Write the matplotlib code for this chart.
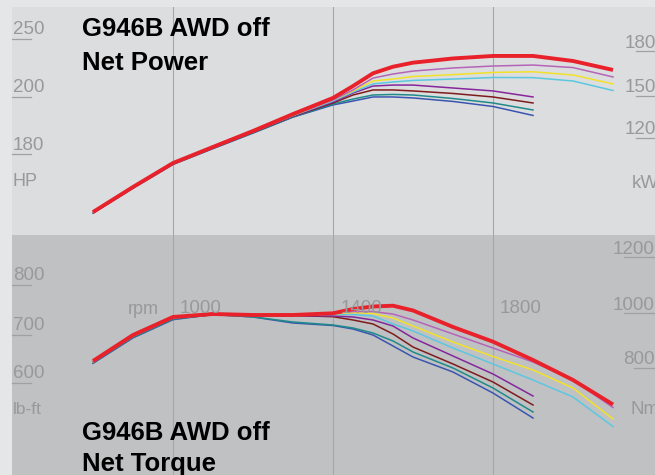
import matplotlib.pyplot as plt
from matplotlib.lines import Line2D

# rpm samples
rpm_long = [800, 900, 1000, 1100, 1200, 1300, 1400, 1450, 1500, 1550, 1600, 1700, 1800, 1900, 2000, 2100]
rpm_short = [800, 900, 1000, 1100, 1200, 1300, 1400, 1450, 1500, 1550, 1600, 1700, 1800, 1900]

# net power, kW
pow_red = [66.4, 84.3, 101.4, 112.9, 124.3, 136.4, 147.9, 156.4, 165.5, 170.2, 173.1, 176.1, 177.9, 177.9, 174.3, 167.9]
pow_magenta = [66.2, 84.1, 101.2, 112.7, 124.0, 135.8, 146.4, 153.6, 162.1, 165.0, 167.1, 169.3, 170.7, 171.4, 169.6, 162.9]
pow_yellow = [66.2, 84.1, 101.2, 112.7, 124.0, 135.6, 146.4, 152.9, 160.0, 161.4, 163.2, 164.6, 166.1, 166.6, 164.3, 157.9]
pow_cyan = [66.1, 84.0, 101.0, 112.5, 123.8, 135.3, 145.7, 152.1, 157.9, 159.3, 160.4, 161.4, 162.5, 162.4, 160.0, 153.2]
pow_purple = [66.1, 84.0, 101.0, 112.4, 123.6, 135.0, 145.0, 151.4, 156.4, 157.1, 157.1, 155.0, 152.9, 148.6]
pow_darkred = [66.0, 83.9, 100.9, 112.3, 123.4, 134.8, 144.3, 150.0, 153.6, 153.6, 152.9, 151.1, 148.6, 144.3]
pow_teal = [65.8, 83.6, 100.6, 111.9, 123.0, 134.4, 143.6, 147.1, 150.0, 150.4, 150.0, 147.5, 144.3, 139.3]
pow_blue = [65.6, 83.4, 100.4, 111.7, 122.8, 134.2, 142.9, 145.7, 148.6, 148.6, 147.9, 145.4, 141.8, 135.4]

# net torque, Nm
trq_red = [821.4, 914.3, 978.6, 989.3, 985.7, 985.7, 991.8, 1007.1, 1016.1, 1018.9, 1001.8, 942.9, 890.4, 825.0, 753.6, 666.1]
trq_magenta = [820.0, 912.0, 977.0, 988.0, 985.0, 985.0, 991.0, 998.0, 998.0, 989.0, 967.9, 917.9, 867.9, 817.9, 753.6, 655.4]
trq_yellow = [819.0, 911.0, 976.0, 987.5, 985.0, 985.0, 989.3, 994.6, 991.1, 975.0, 946.4, 889.3, 837.5, 789.3, 725.0, 614.3]
trq_cyan = [818.0, 910.0, 975.0, 987.0, 984.0, 984.0, 987.5, 987.5, 982.1, 953.6, 928.6, 867.9, 810.7, 753.6, 692.9, 587.5]
trq_purple = [818.0, 910.0, 975.0, 987.0, 984.0, 983.9, 982.1, 978.6, 967.9, 946.4, 903.6, 839.3, 775.0, 696.4]
trq_darkred = [817.0, 909.0, 974.0, 986.5, 983.5, 983.9, 979.6, 967.9, 953.6, 917.9, 871.4, 810.7, 746.4, 664.3]
trq_teal = [815.0, 906.0, 971.0, 987.0, 979.0, 960.7, 950.0, 939.3, 921.4, 892.9, 853.6, 796.4, 725.0, 639.3]
trq_blue = [813.0, 904.0, 969.0, 987.5, 978.6, 957.1, 948.2, 935.7, 914.3, 875.0, 835.7, 782.1, 707.1, 617.9]

grid_rpm = [1000, 1400, 1800]

W, H = 655, 475
fig = plt.figure(figsize=(6.55, 4.75), dpi=100, facecolor='#e5e6e8')
ax_top = fig.add_axes([12 / W, 240 / H, 643 / W, 228 / H])
ax_bot = fig.add_axes([12 / W, 0, 643 / W, 240 / H])

ax_top.set_facecolor('#dcdddf')
ax_bot.set_facecolor('#c0c1c3')

for ax in (ax_top, ax_bot):
    ax.set_xlim(597.5, 2205)
    for s in ax.spines.values():
        s.set_visible(False)
    ax.set_xticks([])
    ax.set_yticks([])
    for r in grid_rpm:
        ax.axvline(r, color='#a6a7a9', lw=0.8, zorder=1)

ax_top.set_ylim(50, 212.86)
ax_bot.set_ylim(414.3, 1271.4)

thin = 1.1
# power lines, thin ones first, red on top
ax_top.plot(rpm_short, pow_blue, color='#3a55b0', lw=thin)
ax_top.plot(rpm_short, pow_teal, color='#1f8a8a', lw=thin)
ax_top.plot(rpm_short, pow_darkred, color='#7e1c1c', lw=thin)
ax_top.plot(rpm_short, pow_purple, color='#85279a', lw=thin)
ax_top.plot(rpm_long, pow_cyan, color='#5cc8e0', lw=thin)
ax_top.plot(rpm_long, pow_yellow, color='#f2e228', lw=thin)
ax_top.plot(rpm_long, pow_magenta, color='#b564b8', lw=thin)
ax_top.plot(rpm_long, pow_red, color='#e8212b', lw=2.8, solid_capstyle='butt')

ax_bot.plot(rpm_short, trq_blue, color='#3a55b0', lw=thin)
ax_bot.plot(rpm_short, trq_teal, color='#1f8a8a', lw=thin)
ax_bot.plot(rpm_short, trq_darkred, color='#7e1c1c', lw=thin)
ax_bot.plot(rpm_short, trq_purple, color='#85279a', lw=thin)
ax_bot.plot(rpm_long, trq_cyan, color='#5cc8e0', lw=thin)
ax_bot.plot(rpm_long, trq_yellow, color='#f2e228', lw=thin)
ax_bot.plot(rpm_long, trq_magenta, color='#b564b8', lw=thin)
ax_bot.plot(rpm_long, trq_red, color='#e8212b', lw=2.8, solid_capstyle='butt')

grey = '#98999b'
fnt = 'Liberation Sans'


def ftext(px, py, s, **kw):
    # px, py in pixels from top-left
    fig.text(px / W, 1 - py / H, s, **kw)


def uline(x0, x1, py):
    fig.add_artist(Line2D([x0 / W, x1 / W], [1 - py / H, 1 - py / H],
                          color='#a0a1a3', lw=0.9))


# left scales
for lab, cy in [('250', 28), ('200', 86), ('180', 143), ('800', 274), ('700', 324), ('600', 372)]:
    ftext(13, cy + 6.5, lab, color=grey, fontsize=13.5, family=fnt, va='baseline')
    uline(12, 31, cy + 11)
ftext(13, 180 + 6.5, 'HP', color=grey, fontsize=13, family=fnt, va='baseline')
ftext(13, 408 + 6.5, 'lb-ft', color=grey, fontsize=12.5, family=fnt, va='baseline')

# right scales (cut off at the edge)
for lab, x0, cy in [('180', 625, 41), ('150', 625, 86), ('120', 625, 128),
                    ('1200', 613, 247), ('1000', 613, 303), ('800', 623, 358)]:
    ftext(x0, cy + 6.5, lab, color=grey, fontsize=13.5, family=fnt, va='baseline')
    uline(x0 + 11, 655, cy + 10)
ftext(632, 181 + 6.5, 'kW', color=grey, fontsize=13.5, family=fnt, va='baseline')
ftext(630, 407 + 6.5, 'Nm', color=grey, fontsize=13.5, family=fnt, va='baseline')

# rpm labels
ftext(128, 307 + 6.5, 'rpm', color=grey, fontsize=13, family=fnt, va='baseline')
for r in grid_rpm:
    ax_bot.text(r + 70, 1000 + (311 - 313.5) / 0.28, str(r), color=grey, fontsize=13.5,
                family=fnt, ha='center', va='baseline')

# titles
tkw = dict(color='black', fontsize=18.5, family=fnt, fontweight='bold', va='baseline')
ftext(82, 36.5, 'G946B AWD off', **tkw)
ftext(82, 69.5, 'Net Power', **tkw)
ftext(82, 440.5, 'G946B AWD off', **tkw)
ftext(82, 470.5, 'Net Torque', **tkw)

fig.savefig('out.png', dpi=100, facecolor=fig.get_facecolor())
